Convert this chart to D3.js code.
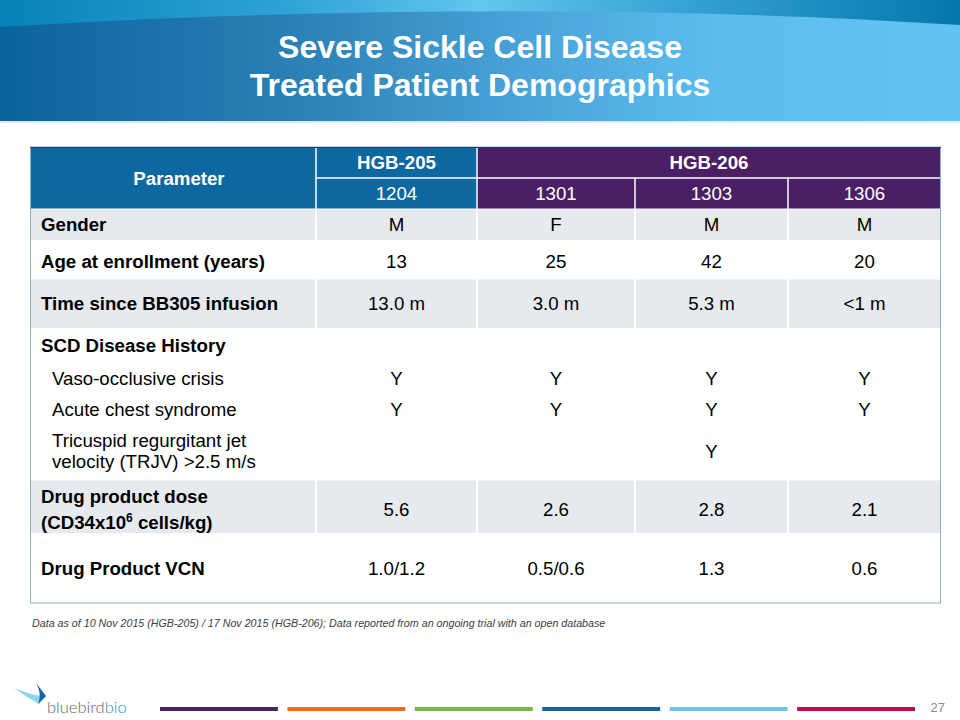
<!DOCTYPE html>
<html>
<head>
<meta charset="utf-8">
<script src="https://cdn.jsdelivr.net/npm/d3@7"></script>
<style>
  html, body { margin: 0; padding: 0; background: #fff; }
  svg { display: block; }
</style>
</head>
<body>
<svg id="chart" width="960" height="720"></svg>
<script>
// ---------- data ----------
const titleLines = ["Severe Sickle Cell Disease", "Treated Patient Demographics"];
const studies = ["HGB-205", "HGB-206"];
const patients = ["1204", "1301", "1303", "1306"];
const patientStudy = ["HGB-205", "HGB-206", "HGB-206", "HGB-206"];
const gender = ["M", "F", "M", "M"];
const ageAtEnrollment = [13, 25, 42, 20];
const timeSinceInfusion = ["13.0 m", "3.0 m", "5.3 m", "<1 m"];
const vasoOcclusiveCrisis = ["Y", "Y", "Y", "Y"];
const acuteChestSyndrome = ["Y", "Y", "Y", "Y"];
const trjvAbove25 = ["", "", "Y", ""];
const drugProductDose = [5.6, 2.6, 2.8, 2.1];
const drugProductVCN = ["1.0/1.2", "0.5/0.6", "1.3", "0.6"];
const footnote = "Data as of 10 Nov 2015 (HGB-205) / 17 Nov 2015 (HGB-206); Data reported from an ongoing trial with an open database";
const pageNumber = "27";
const footerBarColors = ["#4b2166", "#ee6c1e", "#7ab648", "#11659c", "#6dc3ea", "#b4104f"];

// ---------- drawing ----------
const svg = d3.select("#chart");
const FONT = "'Liberation Sans', Arial, Helvetica, sans-serif";
const BLUE = "#0d68a0", PURPLE = "#4b1f63", GRAY = "#e6e9ee";

const defs = svg.append("defs");
const g1 = defs.append("linearGradient").attr("id", "bannerMain").attr("x1", 0).attr("x2", 1).attr("y1", 0).attr("y2", 0);
[[0, "#0b639b"], [0.3, "#2a7fb4"], [0.55, "#4aa4d9"], [0.75, "#5dbdee"], [1, "#62c2f1"]]
  .forEach(([o, c]) => g1.append("stop").attr("offset", o).attr("stop-color", c));
const g2 = defs.append("linearGradient").attr("id", "bannerTop").attr("x1", 0).attr("x2", 1).attr("y1", 0).attr("y2", 0);
[[0, "#0582b8"], [0.3, "#2fa3d5"], [0.5, "#62c6f0"], [0.72, "#35a1d2"], [1, "#0477aa"]]
  .forEach(([o, c]) => g2.append("stop").attr("offset", o).attr("stop-color", c));

// banner
svg.append("rect").attr("x", 0).attr("y", 0).attr("width", 960).attr("height", 121).attr("fill", "url(#bannerMain)");
svg.append("path").attr("d", "M0,0 L960,0 L960,25 C650,5 300,8 0,27 Z").attr("fill", "url(#bannerTop)");
svg.append("rect").attr("x", 0).attr("y", 121).attr("width", 960).attr("height", 2).attr("fill", "#d3effb");

svg.append("g").selectAll("text").data(titleLines).join("text")
  .attr("x", 480).attr("y", (d, i) => 58 + i * 38)
  .attr("text-anchor", "middle").attr("fill", "#fff")
  .attr("font-family", FONT).attr("font-weight", "bold").attr("font-size", 32)
  .text(d => d);

// table geometry (column widths are layout, not data)
const tLeft = 30, tParamRight = 316, tRight = 941;
const colWeights = [161, 158, 153, 153];
const colScale = d3.scaleLinear().domain([0, d3.sum(colWeights)]).range([tParamRight, tRight]);
const colStarts = d3.cumsum([0, ...colWeights]);
const xStart = d3.scaleOrdinal().domain(patients).range(patients.map((p, i) => colScale(colStarts[i])));
const xWidth = p => colScale(colStarts[patients.indexOf(p) + 1]) - xStart(p);
const xMid = p => xStart(p) + xWidth(p) / 2;
const hdr1 = [147, 178], hdr2 = [178, 209];

const table = svg.append("g");

// header: parameter cell
table.append("rect").attr("x", tLeft).attr("y", hdr1[0]).attr("width", tParamRight - tLeft)
  .attr("height", hdr2[1] - hdr1[0]).attr("fill", BLUE);
table.append("text").attr("x", (tLeft + tParamRight) / 2 + 6).attr("y", (hdr1[0] + hdr2[1]) / 2)
  .attr("dy", "0.35em").attr("text-anchor", "middle").attr("fill", "#fff")
  .attr("font-family", FONT).attr("font-weight", "bold").attr("font-size", 18.67).text("Parameter");

// header: study groups
const studySpans = studies.map(s => {
  const ps = patients.filter((p, i) => patientStudy[i] === s);
  return { study: s, x0: xStart(ps[0]), x1: xStart(ps[ps.length - 1]) + xWidth(ps[ps.length - 1]) };
});
const studyColor = d3.scaleOrdinal().domain(studies).range([BLUE, PURPLE]);
table.append("g").selectAll("rect").data(studySpans).join("rect")
  .attr("x", d => d.x0).attr("y", hdr1[0]).attr("width", d => d.x1 - d.x0).attr("height", hdr1[1] - hdr1[0])
  .attr("fill", d => studyColor(d.study));
table.append("g").selectAll("text").data(studySpans).join("text")
  .attr("x", d => (d.x0 + d.x1) / 2).attr("y", (hdr1[0] + hdr1[1]) / 2).attr("dy", "0.35em")
  .attr("text-anchor", "middle").attr("fill", "#fff").attr("font-family", FONT)
  .attr("font-weight", "bold").attr("font-size", 18.67).text(d => d.study);

// header: patients
table.append("g").selectAll("rect").data(patients).join("rect")
  .attr("x", d => xStart(d)).attr("y", hdr2[0]).attr("width", d => xWidth(d)).attr("height", hdr2[1] - hdr2[0])
  .attr("fill", (d, i) => studyColor(patientStudy[i]));
table.append("g").selectAll("text").data(patients).join("text")
  .attr("x", d => xMid(d)).attr("y", (hdr2[0] + hdr2[1]) / 2).attr("dy", "0.35em")
  .attr("text-anchor", "middle").attr("fill", "#fff").attr("font-family", FONT)
  .attr("font-size", 18.67).text(d => d);

// header white grid lines
const hl = table.append("g").attr("stroke", "#fff").attr("stroke-width", 1.5);
hl.append("line").attr("x1", tParamRight).attr("x2", tParamRight).attr("y1", hdr1[0]).attr("y2", hdr2[1]);
hl.append("line").attr("x1", tParamRight).attr("x2", tRight).attr("y1", hdr1[1]).attr("y2", hdr1[1]);
patients.slice(1).forEach((p, k) => {
  const xx = xStart(p);
  const first = patientStudy[k] !== patientStudy[k + 1];
  hl.append("line").attr("x1", xx).attr("x2", xx).attr("y1", first ? hdr1[0] : hdr2[0]).attr("y2", hdr2[1]);
});

// body rows
const fmtDose = d3.format(".1f");
const bodyRows = [
  { label: ["Gender"], values: gender, y0: 209, y1: 240, fill: GRAY },
  { label: ["Age at enrollment (years)"], values: ageAtEnrollment, y0: 240, y1: 279, fill: "#fff", cy: 261 },
  { label: ["Time since BB305 infusion"], values: timeSinceInfusion, y0: 279, y1: 328, fill: GRAY },
  { label: ["Drug product dose", "DOSE2"], values: drugProductDose.map(fmtDose), y0: 480, y1: 533, fill: GRAY, cy: 509 },
  { label: ["Drug Product VCN"], values: drugProductVCN, y0: 533, y1: 603, fill: "#fff", cy: 568 }
];

bodyRows.forEach(r => {
  const g = table.append("g");
  g.append("rect").attr("x", tLeft).attr("y", r.y0).attr("width", tRight - tLeft).attr("height", r.y1 - r.y0).attr("fill", r.fill);
  if (r.fill !== "#fff") {
    [tParamRight, ...patients.slice(1).map(p => xStart(p))].forEach(xx =>
      g.append("line").attr("x1", xx).attr("x2", xx).attr("y1", r.y0).attr("y2", r.y1)
        .attr("stroke", "#fff").attr("stroke-width", 2));
    g.append("line").attr("x1", tLeft).attr("x2", tRight).attr("y1", r.y0).attr("y2", r.y0)
      .attr("stroke", "#fff").attr("stroke-width", 1);
  }
  const cy = r.cy || (r.y0 + r.y1) / 2;
  const lh = 26;
  r.label.forEach((l, i) => {
    const ly = cy + (i - (r.label.length - 1) / 2) * lh;
    const t = g.append("text").attr("x", 41).attr("y", ly).attr("dy", "0.35em")
      .attr("fill", "#000").attr("font-family", FONT).attr("font-weight", "bold").attr("font-size", 18.67);
    if (l === "DOSE2") {
      t.append("tspan").text("(CD34x10");
      t.append("tspan").attr("dy", -7).attr("font-size", 12).text("6");
      t.append("tspan").attr("dy", 7).text(" cells/kg)");
    } else t.text(l);
  });
  g.selectAll("text.v").data(r.values).join("text").attr("class", "v")
    .attr("x", (d, i) => xMid(patients[i])).attr("y", cy).attr("dy", "0.35em")
    .attr("text-anchor", "middle").attr("fill", "#000").attr("font-family", FONT).attr("font-size", 18.67)
    .text(d => d);
});

// SCD disease history block (white)
const scd = table.append("g");
scd.append("text").attr("x", 41).attr("y", 345).attr("dy", "0.35em").attr("font-family", FONT)
  .attr("font-weight", "bold").attr("font-size", 18.67).text("SCD Disease History");
const scdRows = [
  { label: ["Vaso-occlusive crisis"], values: vasoOcclusiveCrisis, cy: 378 },
  { label: ["Acute chest syndrome"], values: acuteChestSyndrome, cy: 409 },
  { label: ["Tricuspid regurgitant jet", "velocity (TRJV) >2.5 m/s"], values: trjvAbove25, cy: 451 }
];
scdRows.forEach(r => {
  r.label.forEach((l, i) => {
    scd.append("text").attr("x", 52).attr("y", r.cy + (i - (r.label.length - 1) / 2) * 21).attr("dy", "0.35em")
      .attr("font-family", FONT).attr("font-size", 18.67).text(l);
  });
  scd.append("g").selectAll("text").data(r.values).join("text")
    .attr("x", (d, i) => xMid(patients[i])).attr("y", r.cy).attr("dy", "0.35em")
    .attr("text-anchor", "middle").attr("font-family", FONT).attr("font-size", 18.67).text(d => d);
});

// outer border
table.append("rect").attr("x", tLeft + 0.5).attr("y", hdr1[0]).attr("width", tRight - tLeft - 1)
  .attr("height", 603 - hdr1[0]).attr("fill", "none").attr("stroke", "#8cb0cc").attr("stroke-width", 1);
table.append("line").attr("x1", tLeft).attr("x2", tRight).attr("y1", hdr1[0] + 0.5).attr("y2", hdr1[0] + 0.5)
  .attr("stroke", "#1e3f66").attr("stroke-width", 1);

// footnote
svg.append("text").attr("x", 32).attr("y", 627).attr("font-family", FONT).attr("font-style", "italic")
  .attr("font-size", 10.7).attr("fill", "#404040").text(footnote);

// footer bars
const barX = d3.scaleBand().domain(d3.range(footerBarColors.length)).range([160, 915]).paddingInner(0.075);
svg.append("g").selectAll("rect").data(footerBarColors).join("rect")
  .attr("x", (d, i) => barX(i)).attr("y", 707).attr("width", barX.bandwidth()).attr("height", 4).attr("fill", d => d);

// page number
svg.append("text").attr("x", 945).attr("y", 712).attr("text-anchor", "end").attr("font-family", FONT)
  .attr("font-size", 13).attr("fill", "#8c8c8c").text(pageNumber);

// logo
const logo = svg.append("g");
logo.append("path").attr("d", "M14,688 C26,693 37,696 46,696 L39,704 C31,699 22,694 14,688 Z").attr("fill", "#8fd3f3");
logo.append("path").attr("d", "M36,683 L46,696 L38,704 C41,697 40,690 36,683 Z").attr("fill", "#1066a6");
const lt = logo.append("text").attr("x", 47).attr("y", 713).attr("font-family", "Lato, 'Open Sans', sans-serif")
  .attr("font-size", 16.5).attr("font-weight", 300);
lt.append("tspan").attr("fill", "#5c646c").text("bluebird");
lt.append("tspan").attr("fill", "#2a8fd2").text("bio");
</script>
</body>
</html>
